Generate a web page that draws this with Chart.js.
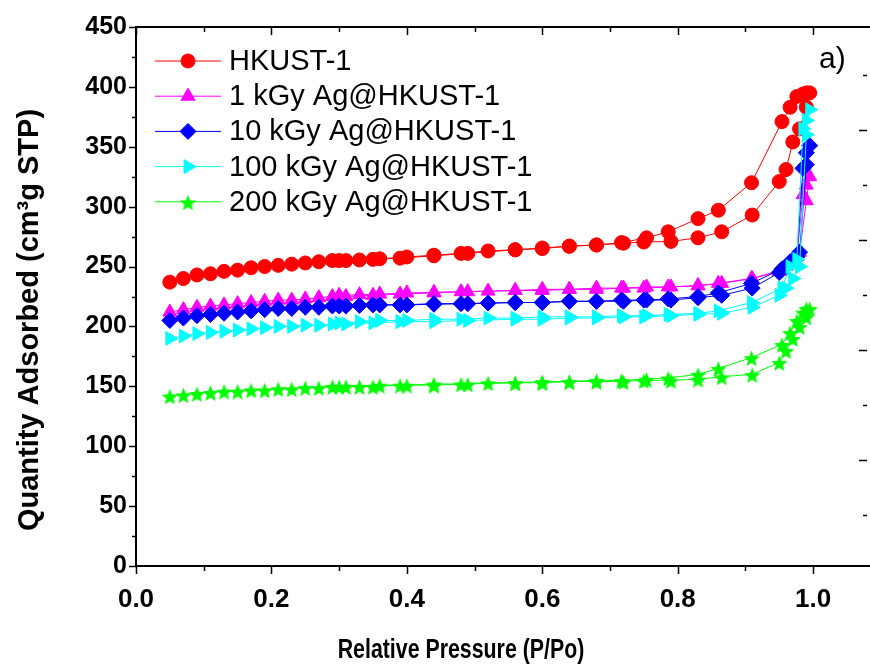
<!DOCTYPE html>
<html>
<head>
<meta charset="utf-8">
<script src="https://cdn.jsdelivr.net/npm/chart.js@4.4.1/dist/chart.umd.min.js"></script>
<style>
  body { margin: 0; background: #fff; }
</style>
</head>
<body>
<canvas id="myChart" width="870" height="667"></canvas>
<script>
'use strict';

// relative pressure of the adsorption and desorption points
let adsP = [0.05, 0.07, 0.09, 0.11, 0.13, 0.15, 0.17, 0.19, 0.21, 0.23, 0.25, 0.27, 0.29, 0.31,
  0.35, 0.39, 0.44, 0.49, 0.56, 0.60, 0.64, 0.68, 0.72, 0.75, 0.79, 0.83, 0.865, 0.91,
  0.95, 0.96, 0.97, 0.98, 0.99, 0.995];
let desP = [0.99, 0.985, 0.976, 0.966, 0.954, 0.909, 0.86, 0.83, 0.786, 0.754, 0.717, 0.68,
  0.64, 0.60, 0.56, 0.52, 0.48, 0.44, 0.40, 0.36, 0.33, 0.30];

let hkustAds = [237, 240, 243, 244, 246, 247, 249, 250, 251, 252, 253, 254, 255, 255,
  256, 257, 259, 261, 264, 265, 267, 268, 269.5, 270.5, 271, 274, 279, 293,
  321, 331, 354, 365, 383, 395];
let hkustDes = [395, 394, 392, 383, 371, 320, 297, 290, 279, 274, 270, 268,
  267, 265.5, 264, 263, 261, 259.5, 258, 256.5, 255.5, 255];

let ag1Ads = [212, 214, 216, 217, 218, 219, 220, 221, 222, 222, 223, 224, 225, 225,
  226, 227, 228, 229, 230, 230, 231, 231, 232, 232, 233, 234, 236, 240,
  246, 250, 254, 262, 305, 325];
let ag1Des = [318, 310, 258, 252, 247, 240, 236, 234, 233, 233, 232, 232,
  231, 231, 230, 229.5, 229, 228.5, 228, 227, 226.5, 226];

let ag10Ads = [205, 207, 209, 210, 211, 212, 213, 214, 215, 215, 216, 216, 217, 217,
  218, 218, 219, 219, 220, 220, 221, 221, 221, 222, 222, 224, 226, 232,
  245, 250, 255, 262, 335, 351];
let ag10Des = [345, 332, 258, 254, 248, 236, 228, 225, 223, 222, 222, 221,
  221, 220, 220, 219.5, 219, 218.5, 218, 218, 217.5, 217];

let ag100Ads = [190, 192, 194, 195, 196, 197, 198, 199, 200, 200, 201, 201, 202, 202,
  203, 204, 204, 205, 206, 206, 207, 207, 208, 208, 209, 210, 211, 216,
  226, 232, 240, 250, 360, 381];
let ag100Des = [372, 365, 256, 250, 232, 220, 213, 211, 210, 209, 209, 208,
  208, 208, 207, 207, 206, 206, 205, 205, 204, 203];

let ag200Ads = [142, 143, 144, 145, 146, 146, 147, 147, 148, 148, 149, 149, 150, 150,
  150, 151, 151, 152, 153, 153, 154, 154, 154, 155, 155, 156, 158, 160,
  170, 180, 190, 200, 208, 215];
let ag200Des = [215, 212, 205, 195, 185, 174, 165, 160, 157, 156, 155, 155,
  154, 154, 153, 153, 152, 152, 151, 151, 150, 150];

let seriesNames = ['HKUST-1', '1 kGy Ag@HKUST-1', '10 kGy Ag@HKUST-1', '100 kGy Ag@HKUST-1', '200 kGy Ag@HKUST-1'];
let seriesColors = ['#ff0000', '#ff00ff', '#0000ff', '#00ffff', '#00ff00'];

let xTicks = [0, 0.2, 0.4, 0.6, 0.8, 1.0];
let yTicks = [0, 50, 100, 150, 200, 250, 300, 350, 400, 450];

let xTitle = 'Relative Pressure (P/Po)';
let yTitle = 'Quantity Adsorbed (cm\u00B3g STP)';
let panelLabel = 'a)';

function starCanvas(size, color) {
    let c = document.createElement('canvas');
    c.width = size;
    c.height = size;
    let g = c.getContext('2d');
    let R = size / 2;
    let r = R * 0.45;
    g.beginPath();
    for (let i = 0; i < 10; i++) {
        let a = -Math.PI / 2 + i * Math.PI / 5;
        let rad = i % 2 === 0 ? R : r;
        g.lineTo(R + rad * Math.cos(a), R + 1.5 + rad * Math.sin(a));
    }
    g.closePath();
    g.fillStyle = color;
    g.fill();
    return c;
}

function makePoints(ads, des) {
    let pts = [];
    for (let i = 0; i < adsP.length; i++) pts.push({ x: adsP[i], y: ads[i] });
    for (let i = 0; i < desP.length; i++) pts.push({ x: desP[i], y: des[i] });
    return pts;
}

let allSeries = [[hkustAds, hkustDes], [ag1Ads, ag1Des], [ag10Ads, ag10Des], [ag100Ads, ag100Des], [ag200Ads, ag200Des]];
let markers = [
    { style: 'circle', radius: 7, rotation: 0 },
    { style: 'triangle', radius: 8, rotation: 0 },
    { style: 'rectRot', radius: 8, rotation: 0 },
    { style: 'triangle', radius: 8, rotation: 90 },
    { style: starCanvas(17, seriesColors[4]), radius: 8, rotation: 0 }
];

let datasets = [];
for (let i = 0; i < allSeries.length; i++) {
    datasets.push({
        label: seriesNames[i],
        data: makePoints(allSeries[i][0], allSeries[i][1]),
        showLine: true,
        borderColor: seriesColors[i],
        backgroundColor: seriesColors[i],
        borderWidth: 1,
        pointStyle: markers[i].style,
        pointRadius: markers[i].radius,
        pointRotation: markers[i].rotation,
        pointBorderWidth: 1,
        order: -i
    });
}

// ticks, top border, titles, legend and panel label
let framePlugin = {
    id: 'frame',
    afterDraw(chart) {
        let ctx = chart.ctx;
        let area = chart.chartArea;
        let xs = chart.scales.x;
        let ys = chart.scales.y;
        ctx.save();
        ctx.strokeStyle = '#000';
        ctx.lineWidth = 2;
        ctx.beginPath();
        ctx.moveTo(area.left - 1, area.top);
        ctx.lineTo(area.right, area.top);
        ctx.stroke();

        ctx.lineWidth = 1.5;
        ctx.beginPath();
        for (let v = 0; v <= 450; v += 25) {
            let y = Math.round(ys.getPixelForValue(v)) + 0.5;
            let len = v % 50 === 0 ? 7 : 4;
            ctx.moveTo(area.left - len, y);
            ctx.lineTo(area.left, y);
        }
        for (let k = 0; k <= 10; k++) {
            let x = Math.round(xs.getPixelForValue(k / 10)) + 0.5;
            let len = k % 2 === 0 ? 8 : 5;
            ctx.moveTo(x, area.bottom);
            ctx.lineTo(x, area.bottom + len);
            ctx.moveTo(x, area.top);
            ctx.lineTo(x, area.top + len);
        }
        let n = 0;
        for (let v = 42.5; v < 450; v += 45.9) {
            let y = Math.round(ys.getPixelForValue(v)) + 0.5;
            let len = n % 2 === 0 ? 4 : 8;
            ctx.moveTo(area.right - 3 - len, y);
            ctx.lineTo(area.right - 3, y);
            n++;
        }
        ctx.stroke();

        ctx.fillStyle = '#000';
        ctx.textAlign = 'center';
        ctx.textBaseline = 'middle';
        ctx.save();
        ctx.translate(461, 651);
        ctx.scale(0.79, 1);
        ctx.font = "bold 27px 'Liberation Sans', Arial";
        ctx.fillText(xTitle, 0, 0);
        ctx.restore();
        ctx.save();
        ctx.translate(30, 320);
        ctx.rotate(-Math.PI / 2);
        ctx.font = "bold 29px 'Liberation Sans', Arial";
        ctx.fillText(yTitle, 0, 0);
        ctx.restore();

        ctx.textAlign = 'left';
        ctx.font = "30px 'Liberation Sans', Arial";
        ctx.fillText(panelLabel, 819, 60);

        ctx.font = "29px 'Liberation Sans', Arial";
        chart.data.datasets.forEach(function (ds, i) {
            let y = 61 + i * 35.2;
            ctx.strokeStyle = ds.borderColor;
            ctx.lineWidth = 1;
            ctx.beginPath();
            ctx.moveTo(155, y);
            ctx.lineTo(221, y);
            ctx.stroke();
            ctx.fillStyle = ds.backgroundColor;
            ctx.strokeStyle = ds.borderColor;
            Chart.helpers.drawPoint(ctx, {
                pointStyle: ds.pointStyle,
                radius: ds.pointRadius,
                rotation: ds.pointRotation,
                borderWidth: 1
            }, 188, y);
            ctx.fillStyle = '#000';
            ctx.fillText(ds.label, 229, y + 1);
        });
        ctx.restore();
    }
};

let ctx = document.getElementById('myChart').getContext('2d');
let myChart = new Chart(ctx, {
    type: 'scatter',
    data: { datasets: datasets },
    options: {
        responsive: false,
        animation: false,
        layout: { autoPadding: false, padding: { left: 0, right: 0, top: 27, bottom: 0 } },
        plugins: {
            legend: { display: false },
            tooltip: { enabled: false }
        },
        scales: {
            x: {
                type: 'linear',
                min: 0,
                max: 1.084,
                grid: { display: false, drawTicks: false },
                border: { display: true, color: '#000', width: 2 },
                ticks: {
                    color: '#000',
                    padding: 18,
                    maxRotation: 0,
                    font: { family: "'Liberation Sans', Arial", size: 26, weight: 'bold' },
                    callback: function (v) { return v.toFixed(1); }
                },
                afterBuildTicks: function (s) { s.ticks = xTicks.map(function (v) { return { value: v }; }); },
                afterFit: function (s) { s.height = 101; s.paddingLeft = 0; s.paddingRight = 0; }
            },
            y: {
                type: 'linear',
                min: 0,
                max: 450,
                grid: { display: false, drawTicks: false },
                border: { display: true, color: '#000', width: 2 },
                ticks: {
                    color: '#000',
                    padding: 9,
                    font: { family: "'Liberation Sans', Arial", size: 25, weight: 'bold' }
                },
                afterBuildTicks: function (s) { s.ticks = yTicks.map(function (v) { return { value: v }; }); },
                afterFit: function (s) { s.width = 136; }
            }
        }
    },
    plugins: [framePlugin]
});
</script>
</body>
</html>
